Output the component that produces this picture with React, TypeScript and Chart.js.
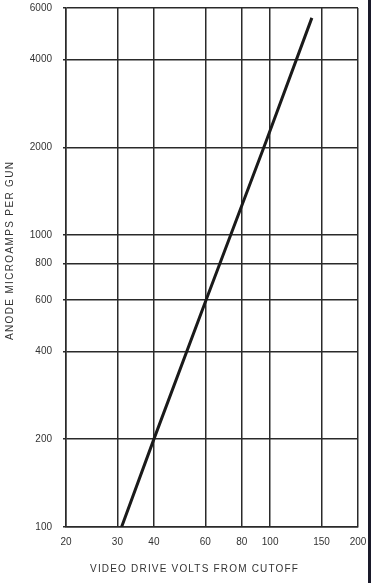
import React, { useEffect, useRef } from "react";
import { Chart, registerables } from "chart.js";

Chart.register(...registerables);

const driveVolts = [31, 40, 60, 97, 139];
const anodeMicroamps = [100, 200, 590, 2100, 5550];
const xTicks = [20, 30, 40, 60, 80, 100, 150, 200];
const yTicks = [100, 200, 400, 600, 800, 1000, 2000, 4000, 6000];
const xTitle = "VIDEO DRIVE VOLTS FROM CUTOFF";
const yTitle = "ANODE MICROAMPS PER GUN";

const FONT = "'Liberation Sans', 'DejaVu Sans', sans-serif";

function drawSpaced(ctx: any, text: string, targetWidth: number) {
  ctx.letterSpacing = "0px";
  const w = ctx.measureText(text).width;
  const sp = Math.max(0, (targetWidth - w) / (text.length - 1));
  ctx.letterSpacing = sp.toFixed(2) + "px";
  const w2 = ctx.measureText(text).width;
  ctx.textAlign = "left";
  ctx.textBaseline = "middle";
  ctx.fillText(text, -w2 / 2 + sp / 2, 0);
  ctx.letterSpacing = "0px";
}

const titlePlugin = {
  id: "axisTitles",
  afterDraw(chart: any) {
    const ctx = chart.ctx;
    ctx.save();
    ctx.fillStyle = "#333";
    ctx.font = `10px ${FONT}`;
    ctx.save();
    ctx.translate(194, 569);
    drawSpaced(ctx, xTitle, 208);
    ctx.restore();
    ctx.save();
    ctx.translate(10, 251);
    ctx.rotate(-Math.PI / 2);
    drawSpaced(ctx, yTitle, 178);
    ctx.restore();
    ctx.restore();
  },
};

export default function App() {
  const ref = useRef<HTMLCanvasElement | null>(null);

  useEffect(() => {
    if (!ref.current) return;
    const chart = new Chart(ref.current, {
      type: "scatter",
      data: {
        datasets: [
          {
            data: driveVolts.map((x, i) => ({ x, y: anodeMicroamps[i] })),
            showLine: true,
            borderColor: "#1a1a1a",
            borderWidth: 3,
            pointRadius: 0,
            tension: 0,
          },
        ],
      },
      plugins: [titlePlugin],
      options: {
        animation: false,
        responsive: false,
        maintainAspectRatio: false,
        layout: { padding: { top: 8, right: 13, left: 0, bottom: 0 } },
        plugins: { legend: { display: false }, tooltip: { enabled: false } },
        scales: {
          x: {
            type: "logarithmic",
            min: 20,
            max: 200,
            afterBuildTicks: (s: any) => {
              s.ticks = xTicks.map((v) => ({ value: v }));
            },
            afterFit: (s: any) => {
              s.height = 56;
              s.paddingLeft = 0;
              s.paddingRight = 0;
            },
            ticks: {
              autoSkip: false,
              maxRotation: 0,
              padding: 9,
              color: "#333",
              font: { family: FONT, size: 10 },
              callback: (v: any) => String(v),
            },
            grid: { color: "#2a2a2a", lineWidth: 1.5, drawTicks: false },
            border: { color: "#2a2a2a", width: 1.5 },
          },
          y: {
            type: "logarithmic",
            min: 100,
            max: 6000,
            afterBuildTicks: (s: any) => {
              s.ticks = yTicks.map((v) => ({ value: v }));
            },
            afterFit: (s: any) => {
              s.width = 66;
              s.paddingTop = 0;
              s.paddingBottom = 0;
            },
            ticks: {
              autoSkip: false,
              padding: 11,
              color: "#333",
              font: { family: FONT, size: 10 },
              callback: (v: any) => String(v),
            },
            grid: { color: "#2a2a2a", lineWidth: 1.5, drawTicks: true, tickLength: 3, tickColor: "#2a2a2a" },
            border: { color: "#2a2a2a", width: 1.5 },
          },
        },
      },
    });
    return () => chart.destroy();
  }, []);

  return (
    <div style={{ position: "fixed", left: 0, top: 0, width: 371, height: 583, background: "#fff" }}>
      <canvas ref={ref} width={371} height={583} style={{ width: 371, height: 583, display: "block" }} />
      <div style={{ position: "absolute", left: 368, top: 0, width: 3, height: 583, background: "#1a1a2a" }} />
    </div>
  );
}
